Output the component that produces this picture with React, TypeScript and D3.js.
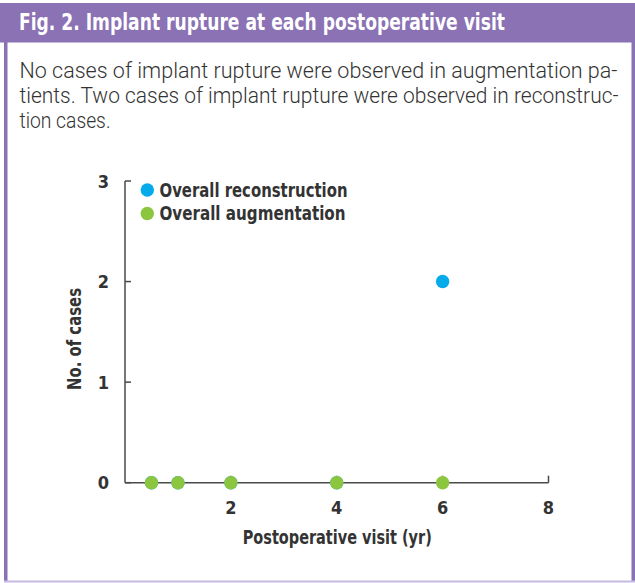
import React from "react";
import * as d3 from "d3";

const title = "Fig. 2. Implant rupture at each postoperative visit";
const bodyLines = [
  "No cases of implant rupture were observed in augmentation pa-",
  "tients. Two cases of implant rupture were observed in reconstruc-",
  "tion cases.",
];
const xTicks = [2, 4, 6, 8];
const yTicks = [0, 1, 2, 3];
const reconVisits = [0.5, 1, 2, 4, 6];
const reconCases = [0, 0, 0, 0, 2];
const augVisits = [0.5, 1, 2, 4, 6];
const augCases = [0, 0, 0, 0, 0];
const seriesNames = ["Overall reconstruction", "Overall augmentation"];
const xTitle = "Postoperative visit (yr)";
const yTitle = "No. of cases";

const W = 635;
const H = 583;
const PURPLE = "#8a72b4";
const BLUE = "#05aaeb";
const GREEN = "#8cc63f";
const TXT = "#333333";
const AXIS = "#4a4a4a";
const FONT = "'DejaVu Sans Condensed', 'Roboto', sans-serif";
const BODY_FONT = "'Roboto', 'DejaVu Sans Condensed', sans-serif";

export default function App() {
  const x = d3.scaleLinear().domain([0, 8]).range([125, 548.5]);
  const y = d3.scaleLinear().domain([0, 3]).range([482.7, 181]);
  const bodyWidths = [598, 599, 91];
  const bodyBase = [77.5, 102.5, 128];
  const recon = reconVisits.map((v, i) => ({ v, c: reconCases[i] }));
  const aug = augVisits.map((v, i) => ({ v, c: augCases[i] }));
  const legendY = [190, 213.5];
  const legendColors = [BLUE, GREEN];
  const legendWidths = [188, 186];
  return (
    <svg
      width={W}
      height={H}
      style={{ position: "absolute", left: 0, top: 0, background: "#fff" }}
      fontFamily={FONT}
    >
      <rect x={0} y={0} width={W} height={H} fill="#fff" />
      {/* frame */}
      <rect x={0} y={3} width={W} height={39.5} fill={PURPLE} />
      <rect x={4} y={42} width={3.5} height={540} fill={PURPLE} />
      <rect x={631.5} y={42} width={3.5} height={540} fill={PURPLE} />
      <rect x={4} y={580.5} width={631} height={2} fill="#c6b9e2" />
      <text
        x={19}
        y={29.5}
        fill="#fff"
        fontWeight="bold"
        fontSize={22.5}
        textLength={486}
        lengthAdjust="spacingAndGlyphs"
      >
        {title}
      </text>
      {bodyLines.map((t, i) => (
        <text
          key={i}
          x={19.5}
          y={bodyBase[i]}
          fill={TXT}
          fontFamily={BODY_FONT}
          fontWeight={300}
          fontSize={21.5}
          textLength={bodyWidths[i]}
          lengthAdjust="spacingAndGlyphs"
        >
          {t}
        </text>
      ))}

      {/* axes */}
      <line x1={x(0)} x2={x(8)} y1={y(0)} y2={y(0)} stroke={AXIS} strokeWidth={1.5} />
      <line x1={x(0)} x2={x(0)} y1={y(0)} y2={y(3)} stroke={AXIS} strokeWidth={1.5} />
      {yTicks.map((t) => (
        <g key={"y" + t}>
          <line x1={x(0)} x2={x(0) + 6} y1={y(t)} y2={y(t)} stroke={AXIS} strokeWidth={1.5} />
          <text
            x={109}
            y={y(t) + 6.5}
            textAnchor="end"
            fill={TXT}
            fontWeight="bold"
            fontSize={18}
          >
            {t}
          </text>
        </g>
      ))}
      {xTicks.map((t) => (
        <g key={"x" + t}>
          <line x1={x(t)} x2={x(t)} y1={y(0)} y2={y(0) - 7} stroke={AXIS} strokeWidth={1.5} />
          <text
            x={x(t)}
            y={514}
            textAnchor="middle"
            fill={TXT}
            fontWeight="bold"
            fontSize={18}
          >
            {t}
          </text>
        </g>
      ))}
      <text
        x={(x(0) + x(8)) / 2 + 0.5}
        y={544}
        textAnchor="middle"
        fill={TXT}
        fontWeight="bold"
        fontSize={20}
        textLength={189}
        lengthAdjust="spacingAndGlyphs"
      >
        {xTitle}
      </text>
      <text
        transform={`translate(81, 339) rotate(-90)`}
        textAnchor="middle"
        fill={TXT}
        fontWeight="bold"
        fontSize={20}
        textLength={102}
        lengthAdjust="spacingAndGlyphs"
      >
        {yTitle}
      </text>

      {/* points */}
      {recon.map((d, i) => (
        <circle key={"r" + i} cx={x(d.v)} cy={y(d.c)} r={6.7} fill={BLUE} />
      ))}
      {aug.map((d, i) => (
        <circle key={"a" + i} cx={x(d.v)} cy={y(d.c)} r={6.7} fill={GREEN} />
      ))}

      {/* legend */}
      {seriesNames.map((n, i) => (
        <g key={n}>
          <circle cx={147.3} cy={legendY[i]} r={6.7} fill={legendColors[i]} />
          <text
            x={159.5}
            y={legendY[i] + 6.5}
            fill={TXT}
            fontWeight="bold"
            fontSize={19}
            textLength={legendWidths[i]}
            lengthAdjust="spacingAndGlyphs"
          >
            {n}
          </text>
        </g>
      ))}
    </svg>
  );
}
